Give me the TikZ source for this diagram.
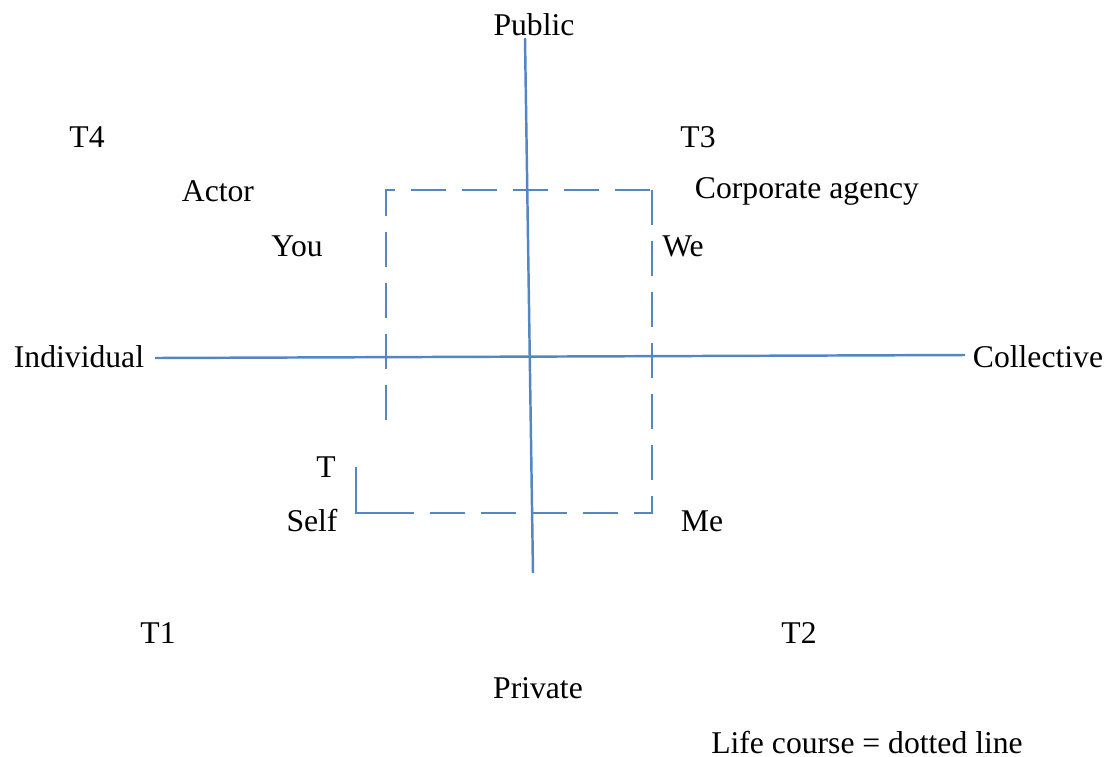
\documentclass[tikz,border=0pt]{standalone}
\usepackage{fontspec}
\setmainfont{Liberation Serif}
\usetikzlibrary{calc, positioning}
\definecolor{lineblue}{RGB}{84,134,196}

\begin{document}
\begin{tikzpicture}[x=0.01cm, y=-0.01cm,
  lbl/.style={font=\fontsize{9}{11}\selectfont, inner sep=0pt},
  axis/.style={lineblue, line width=0.7pt},
  course/.style={lineblue, line width=0.7pt, dash pattern=on 10pt off 4.5pt}]
\useasboundingbox (0,0) rectangle (1108,757);

% axis ends
\coordinate (Ntop) at (525,38);
\coordinate (Nbot) at (533,573);
\coordinate (Wend) at (155,358);
\coordinate (Eend) at (965,355);

% corners of the life course path
\coordinate (A) at (386,420);
\coordinate (B) at (386,190);
\coordinate (C) at (660,190);
\coordinate (D) at (652,190);
\coordinate (E) at (652,513);
\coordinate (F) at (356,513);
\coordinate (G) at (356,467);

\node[lbl] (public) at (534,25) {Public};
\node[lbl] (private) at (538,688) {Private};
\node[lbl] (indiv) at (79,357) {Individual};
\node[lbl] (coll) at (1038,357) {Collective};

\node[lbl] (t4) at (87,137) {T4};
\node[lbl] (t3) at (698,137) {T3};
\node[lbl] (t1) at (158,633) {T1};
\node[lbl] (t2) at (799,633) {T2};

\node[lbl] (actor) at (218,191) {Actor};
\node[lbl] (corp) at (807,191) {Corporate agency};
\node[lbl] (you) at (297,246) {You};
\node[lbl] (we) at (683,246) {We};
\node[lbl] (t) at (326,467) {T};
\node[lbl] (self) at (312,521) {Self};
\node[lbl] (me) at (702,521) {Me};

\node[lbl] (note) at (867,743) {Life course = dotted line};

\draw[axis] (Ntop) -- (Nbot);
\draw[axis] (Wend) -- (Eend);

\draw[course] (A) -- (B) -- (C);
\draw[course] (D) -- (E) -- (F);
\draw[axis] (G) -- (F) -- ++(30,0);
\end{tikzpicture}
\end{document}
